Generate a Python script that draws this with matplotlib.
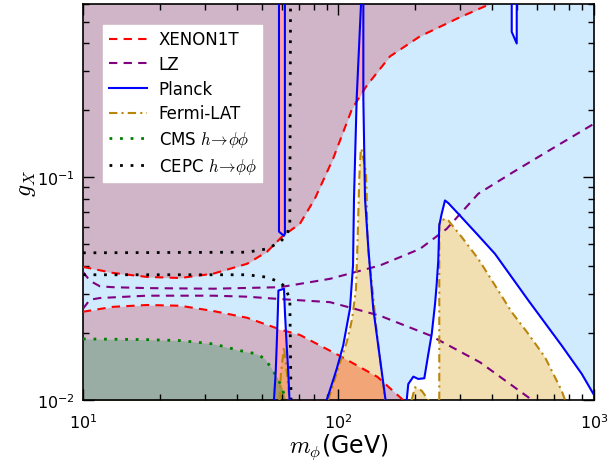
import numpy as np
import matplotlib
matplotlib.use('Agg')
import matplotlib.pyplot as plt
from matplotlib.path import Path
from matplotlib.patches import PathPatch
from matplotlib.font_manager import FontProperties

plt.rcParams['axes.unicode_minus'] = False

# XENON1T exclusion boundaries (excluded above the upper and below the lower branch)
xenon_up_m = [10, 13.1, 17.8, 24.0, 32.3, 43.9, 52.5, 60.6, 70.6, 80.8, 95.2, 113, 129, 159, 208, 292, 392]
xenon_up_g = [0.0396, 0.0372, 0.0357, 0.0353, 0.0369, 0.0409, 0.0463, 0.0546, 0.0618, 0.0801, 0.121,
              0.203, 0.258, 0.349, 0.429, 0.517, 0.6]
xenon_lo_m = [10, 13.1, 17.8, 24.0, 32.3, 43.9, 60.1, 70.6, 101, 142, 179]
xenon_lo_g = [0.0249, 0.0262, 0.0267, 0.0265, 0.0251, 0.0234, 0.0206, 0.0196, 0.0158, 0.0127, 0.0100]

# LZ projection
lz_up_m = [10, 10.65, 11.65, 13.1, 17.75, 32.4, 59.0, 92.6, 145.4, 208.4, 265.1, 352.5, 483.2, 652.9, 1000]
lz_up_g = [0.0376, 0.0343, 0.0324, 0.0321, 0.0318, 0.0316, 0.0321, 0.0350, 0.0402, 0.0477, 0.0587,
           0.0844, 0.1056, 0.130, 0.174]
lz_lo_m = [10, 10.65, 11.65, 17.75, 32.4, 43.8, 59.0, 92.6, 145.4, 228.1, 357.9, 553.4, 561.6]
lz_lo_g = [0.0257, 0.0282, 0.0287, 0.0294, 0.0294, 0.0291, 0.0284, 0.0275, 0.0239, 0.0195, 0.01477,
           0.01028, 0.0100]

# Planck allowed islands (everything else is excluded)
planck_a_m = [58.5, 58.5, 61.2, 61.7, 61.7]
planck_a_g = [0.65, 0.057, 0.0546, 0.056, 0.65]
planck_b_m = [55.9, 56.8, 57.3, 57.9, 58.2, 61.2, 61.7, 62.7, 63.6, 64.3]
planck_b_g = [0.01, 0.01336, 0.0175, 0.0249, 0.0310, 0.0316, 0.0249, 0.0175, 0.01336, 0.01]
planck_c_m = [90.0, 98.4, 104.3, 110.9, 114.0, 115.0, 117.8, 122.5, 122.5,
              125.1, 125.1, 127.0, 130.9, 136.8, 145.4, 152.8]
planck_c_g = [0.01, 0.01379, 0.01754, 0.0257, 0.0402, 0.0801, 0.2256, 0.6, 0.65,
              0.65, 0.2256, 0.0801, 0.0477, 0.0257, 0.01529, 0.01]
planck_d_m = [184.9, 187.6, 196.3, 205.3, 216.7, 224.7, 231.7, 238.7, 242.3, 245.8, 248.0, 253.4,
              261.1, 269.0, 294.3, 352.5, 409.8, 553.4, 747.4, 895.3, 1000]
planck_d_g = [0.01, 0.0118, 0.01273, 0.01243, 0.01252, 0.0161, 0.0198, 0.0270, 0.0332, 0.0423, 0.0608,
              0.0686, 0.0787, 0.0766, 0.0686, 0.0548, 0.0453, 0.0280, 0.01755, 0.0131, 0.01053]
planck_e_m = [476.4, 476.4, 498.3, 498.3]
planck_e_g = [0.65, 0.450, 0.399, 0.65]

# Fermi-LAT allowed regions
fermi_a_m = [91.2, 94.1, 101.4, 107.7, 110.9, 113.0, 117.1, 118.5, 119.6, 120.6, 122.2, 123.0,
             124.7, 128.1, 128.9, 129.6, 131.6, 134.9, 141.1, 149.7, 152.1]
fermi_a_g = [0.01, 0.0112, 0.01477, 0.01817, 0.0209, 0.0231, 0.0316, 0.0477, 0.0698, 0.0986, 0.132, 0.1345,
             0.1238, 0.1056, 0.0829, 0.0568, 0.0430, 0.0338, 0.0202, 0.0116, 0.01]
fermi_b_m = [58.8, 59.5, 61.2, 62.9, 64.3]
fermi_b_g = [0.01, 0.0131, 0.0173, 0.0131, 0.01]
fermi_c_m = [193.4, 199.3, 211.7, 224.7]
fermi_c_g = [0.01, 0.01141, 0.0110, 0.01]
fermi_d_m = [248.0, 248.0, 253.4, 261.1, 269.0, 303.5, 352.5, 409.8, 476.4, 553.4, 642.9, 747.4, 769.9]
fermi_d_g = [0.01, 0.0618, 0.0640, 0.0651, 0.0640, 0.0539, 0.0430, 0.0327, 0.0248, 0.0198, 0.01556,
             0.0110, 0.01]

# CMS h -> phi phi
cms_m = [10, 17.75, 24.0, 32.4, 41.2, 47.9, 51.6, 54.9, 58.0, 60.0, 61.7, 62.2]
cms_g = [0.0188, 0.01867, 0.01848, 0.01786, 0.01666, 0.0161, 0.01528, 0.01377, 0.01243, 0.01141, 0.01028, 0.01]

# CEPC h -> phi phi
cepc_up_m = [10, 43.9, 52.5, 59.0, 62.9, 64.5, 64.9]
cepc_up_g = [0.0458, 0.0461, 0.0477, 0.0512, 0.0552, 0.0618, 0.6]
cepc_lo_m = [10, 43.9, 52.5, 59.0, 61.7, 64.5, 65.2]
cepc_lo_g = [0.0365, 0.0365, 0.0356, 0.0338, 0.0322, 0.0284, 0.01]

M_LIM = (10, 1000)
G_LIM = (0.01, 0.6)


def closed(m, g):
    """Close a region touching the lower edge well outside the axes."""
    m = list(m) + [max(m) * 1.3, min(m) / 1.3]
    g = list(g) + [0.005, 0.005]
    return m, g


def ring(m, g, clockwise):
    x, y = np.log10(m), np.log10(g)
    area = np.sum(x * np.roll(y, -1) - np.roll(x, -1) * y)
    pts = np.column_stack([m, g])
    if (area < 0) != clockwise:
        pts = pts[::-1]
    verts = list(pts) + [pts[0]]
    codes = [Path.MOVETO] + [Path.LINETO] * (len(pts) - 1) + [Path.CLOSEPOLY]
    return verts, codes


fig = plt.figure(figsize=(6.1, 4.64), dpi=100)
ax = fig.add_axes([0.136, 0.1358, 0.8378, 0.8534])
ax.set_xscale('log')
ax.set_yscale('log')

# XENON1T excluded
ax.fill_between(xenon_up_m, xenon_up_g, 1.0, color='red', alpha=0.35, lw=0, zorder=1)
ax.fill_between(xenon_lo_m, 0.005, xenon_lo_g, color='red', alpha=0.35, lw=0, zorder=1)

# Fermi-LAT regions
fermi = [(fermi_a_m, fermi_a_g), (fermi_b_m, fermi_b_g), (fermi_c_m, fermi_c_g), (fermi_d_m, fermi_d_g)]
for fm, fg in fermi:
    cm_, cg_ = closed(fm, fg)
    ax.fill(cm_, cg_, color='goldenrod', alpha=0.35, lw=0, zorder=1.1)

# CMS excluded
ax.fill_between(cms_m, 0.005, cms_g, color='green', alpha=0.35, lw=0, zorder=1.2)

# Planck excluded: whole plane minus the allowed islands
planck = [(planck_a_m, planck_a_g), closed(planck_b_m, planck_b_g), closed(planck_c_m, planck_c_g),
          closed(planck_d_m, planck_d_g), (planck_e_m, planck_e_g)]
verts, codes = ring([1, 1e4, 1e4, 1], [0.001, 0.001, 10, 10], clockwise=False)
for pm, pg in planck:
    v, c = ring(pm, pg, clockwise=True)
    verts += v
    codes += c
ax.add_patch(PathPatch(Path(verts, codes), facecolor='lightskyblue', alpha=0.4, lw=0, zorder=1.3))

lw = 1.5
dash = (0, (4, 3))
dot = (0, (1, 2.8))
dashdot = (0, (4, 2, 1, 2))

ax.plot(xenon_up_m, xenon_up_g, color='red', ls=dash, lw=lw, label='XENON1T', zorder=3)
ax.plot(xenon_lo_m, xenon_lo_g, color='red', ls=dash, lw=lw, zorder=3)
ax.plot(lz_up_m, lz_up_g, color='purple', ls=dash, lw=lw, label='LZ', zorder=3)
ax.plot(lz_lo_m, lz_lo_g, color='purple', ls=dash, lw=lw, zorder=3)
for i, (pm, pg) in enumerate(planck):
    ax.plot(list(pm) + [pm[0]], list(pg) + [pg[0]], color='blue', lw=lw,
            label='Planck' if i == 0 else None, zorder=3.2)
for i, (fm, fg) in enumerate(fermi):
    cm_, cg_ = closed(fm, fg)
    ax.plot(cm_ + [cm_[0]], cg_ + [cg_[0]], color='darkgoldenrod', ls=dashdot, lw=lw,
            label='Fermi-LAT' if i == 0 else None, zorder=3.1)
ax.plot(cms_m, cms_g, color='green', ls=dot, lw=2, label=r'CMS $h\!\to\!\phi\phi$', zorder=3)
ax.plot(cepc_up_m, cepc_up_g, color='black', ls=dot, lw=2, label=r'CEPC $h\!\to\!\phi\phi$', zorder=3)
ax.plot(cepc_lo_m, cepc_lo_g, color='black', ls=dot, lw=2, zorder=3)

ax.set_xlim(*M_LIM)
ax.set_ylim(*G_LIM)

ax.tick_params(which='both', direction='in', top=True, right=True, labelsize=11.5, pad=6)
ax.tick_params(axis='x', which='both', pad=9)
ax.tick_params(which='major', length=8, width=1)
ax.tick_params(which='minor', length=4.5, width=1)
for s in ax.spines.values():
    s.set_linewidth(1.2)

ax.set_xlabel(r'$m_\phi$(GeV)', fontsize=17, math_fontfamily='cm', labelpad=0)
ax.set_ylabel(r'$g_X$', fontsize=17, math_fontfamily='cm', labelpad=-1, y=0.55)

leg = ax.legend(loc='upper left', bbox_to_anchor=(0.039, 0.948), borderaxespad=0,
                prop=FontProperties(size=12, math_fontfamily='cm'), handlelength=2.3,
                handletextpad=0.7, labelspacing=0.4, fancybox=False, framealpha=1,
                edgecolor='white', borderpad=0.35)
leg.set_zorder(5)

fig.savefig('out.png', dpi=100)
